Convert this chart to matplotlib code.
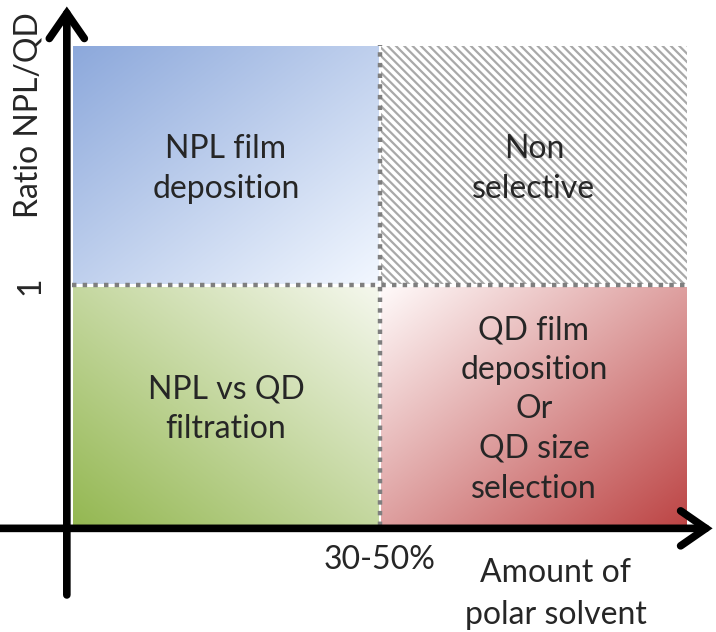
import numpy as np
import matplotlib
matplotlib.use('Agg')
import matplotlib.pyplot as plt
from matplotlib.patches import FancyArrowPatch, Rectangle

# Quadrant diagram: x = amount of polar solvent, y = ratio NPL/QD
x_threshold = 1.0          # 30-50 % polar solvent
y_threshold = 1.0          # ratio NPL/QD = 1
x_max = 2.0
y_max = 2.0

quadrant_labels = ['NPL film\ndeposition', 'Non\nselective',
                   'NPL vs QD\nfiltration',
                   'QD film\ndeposition\nOr\nQD size\nselection']
# (x0, x1, y0, y1) in units of the thresholds
quadrant_spans = [(0, 1, 1, 2), (1, 2, 1, 2), (0, 1, 0, 1), (1, 2, 0, 1)]
# strong colour -> light colour, and which corner the strong colour sits in
quadrant_colors = [((0.55, 0.66, 0.86), (0.95, 0.97, 1.0), 'tl'),
                   None,
                   ((0.58, 0.72, 0.32), (0.96, 0.97, 0.93), 'bl'),
                   ((0.74, 0.27, 0.27), (1.0, 0.98, 0.98), 'br')]
x_tick_label = '30-50%'
y_tick_label = '1'
x_title = 'Amount of\npolar solvent'
y_title = 'Ratio NPL/QD'

plt.rcParams['font.family'] = ['Lato', 'DejaVu Sans']
plt.rcParams['hatch.linewidth'] = 1.6
txt_color = '#262626'
fs = 23

fig = plt.figure(figsize=(7.16, 6.32), dpi=100)
ax = fig.add_axes([0, 0, 1, 1])
ax.set_xlim(-0.234, 2.091)
ax.set_ylim(-0.441, 2.187)
ax.axis('off')


def gradient(c_strong, c_light, corner, n=200):
    u = np.linspace(0, 1, n)
    X, Y = np.meshgrid(u, u)   # Y: 0 at top row of image
    if corner == 'tl':
        t = (X + Y) / 2
    elif corner == 'bl':
        t = (X + (1 - Y)) / 2
    else:  # 'br'
        t = ((1 - X) + (1 - Y)) / 2
    t = t[..., None]
    a = np.array(c_strong)
    b = np.array(c_light)
    return a * (1 - t) + b * t


pad_x, pad_y = 0.004, 0.006
for (x0, x1, y0, y1), cols, lab in zip(quadrant_spans, quadrant_colors, quadrant_labels):
    x0 *= x_threshold; x1 *= x_threshold
    y0 *= y_threshold; y1 *= y_threshold
    ext = (x0 + pad_x, x1 - pad_x, y0 + pad_y, y1 - pad_y)
    if cols is not None:
        img = gradient(*cols)
        ax.imshow(img, extent=ext, origin='upper', aspect='auto', zorder=1,
                  interpolation='bilinear')
    else:
        ax.add_patch(Rectangle((ext[0], ext[2]), ext[1] - ext[0], ext[3] - ext[2],
                               facecolor='white', edgecolor='#a9a9a9', hatch='\\\\\\\\',
                               linewidth=0, zorder=1))
    ax.text((x0 + x1) / 2, (y0 + y1) / 2 - 0.015, lab, ha='center', va='center',
            fontsize=fs, color=txt_color, linespacing=1.4, zorder=3)

# dotted separators
ax.plot([x_threshold, x_threshold], [0, y_max], color='#7f7f7f', lw=3.2,
        linestyle=(0, (1, 1.4)), zorder=2)
ax.plot([0, x_max], [y_threshold, y_threshold], color='#7f7f7f', lw=3.2,
        linestyle=(0, (1, 1.4)), zorder=2)

# axes arrows
arrow_style = '->,head_length=0.65,head_width=0.45'
ya = FancyArrowPatch((-0.017, -0.287), (-0.017, 2.16), arrowstyle=arrow_style,
                     mutation_scale=28, lw=5.5, color='black', zorder=4,
                     shrinkA=0, shrinkB=0, capstyle='round', joinstyle='miter')
xa = FancyArrowPatch((-0.234, -0.01), (2.08, -0.01), arrowstyle=arrow_style,
                     mutation_scale=28, lw=5.5, color='black', zorder=4,
                     shrinkA=0, shrinkB=0, capstyle='round', joinstyle='miter')
ax.add_patch(ya)
ax.add_patch(xa)

# labels
ax.text(x_threshold, -0.14, x_tick_label, ha='center', va='center',
        fontsize=fs, color=txt_color)
ax.text(-0.135, y_threshold, y_tick_label, ha='center', va='center',
        fontsize=fs, color=txt_color, rotation=90)
ax.text(1.57, -0.285, x_title, ha='center', va='center', fontsize=fs,
        color=txt_color, linespacing=1.5)
ax.text(-0.14, 1.71, y_title, ha='center', va='center', fontsize=fs,
        color=txt_color, rotation=90)

fig.savefig('out.png', dpi=100)
